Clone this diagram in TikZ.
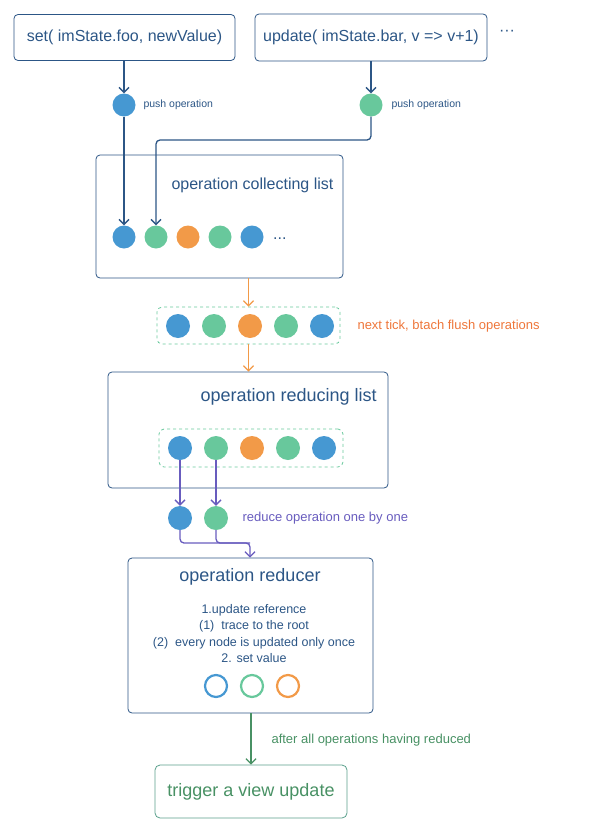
\documentclass[tikz,border=0pt]{standalone}
\usepackage{fontspec}
\setmainfont{Liberation Sans}
\usetikzlibrary{arrows.meta, positioning}
\definecolor{boxblue}{RGB}{44,86,134}
\definecolor{dotblue}{RGB}{70,152,210}
\definecolor{dotgreen}{RGB}{104,200,156}
\definecolor{dotorange}{RGB}{242,154,72}
\definecolor{flowpurple}{RGB}{104,92,190}
\definecolor{tickorange}{RGB}{238,118,58}
\definecolor{viewgreen}{RGB}{72,145,100}
\definecolor{viewedge}{RGB}{90,160,140}

\begin{document}
\begin{tikzpicture}[x=1pt, y=-1pt,
    panel/.style={draw=boxblue, line width=0.8pt, rounded corners=4pt, inner sep=0pt},
    batch/.style={draw=dotgreen, dashed, line width=0.8pt, rounded corners=5pt, inner sep=0pt},
    dot/.style={circle, inner sep=0pt, minimum size=23pt},
    ring/.style={circle, inner sep=0pt, minimum size=22pt, line width=2.2pt},
    tip/.style={-{Straight Barb[length=5pt, width=10pt]}, line width=1.3pt},
    big/.style={font=\fontsize{16}{19}\selectfont, text=boxblue},
    huge/.style={font=\fontsize{18}{21}\selectfont, text=boxblue},
    note/.style={font=\fontsize{13}{15}\selectfont}]
    \useasboundingbox (0,0) rectangle (592,835);
    % calls
    \node[panel, big, minimum width=221pt, minimum height=46pt] (setcall) at (124.5,37.5) {set( imState.foo, newValue)};
    \node[panel, big, minimum width=232pt, minimum height=47pt] (updcall) at (371,37.5) {update( imState.bar, v => v+1)};
    \node[big] (more) at (507,33) {···};
    % pushed operations
    \node[dot, fill=dotblue] (pusha) at (124,105) {};
    \node[dot, fill=dotgreen] (pushb) at (371,105) {};
    \node[anchor=west, font=\fontsize{10.5}{12}\selectfont, text=boxblue] at (140,105) {push operation};
    \node[anchor=west, font=\fontsize{10.5}{12}\selectfont, text=boxblue] at (388,105) {push operation};
    % collecting list
    \node[panel, minimum width=247pt, minimum height=123pt] (collect) at (219.5,216.5) {};
    \node[big, anchor=west] at (168,185) {operation collecting list};
    \node[dot, fill=dotblue] (c1) at (124,237) {};
    \node[dot, fill=dotgreen] (c2) at (156,237) {};
    \node[dot, fill=dotorange] (c3) at (188,237) {};
    \node[dot, fill=dotgreen] (c4) at (220,237) {};
    \node[dot, fill=dotblue] (c5) at (252,237) {};
    \node[big, anchor=west, inner sep=0pt] at (273,239) {...};
    \coordinate (turnb) at (156,140);
    \draw[tip, boxblue] (setcall.south -| pusha) -- (pusha.north);
    \draw[tip, boxblue] (updcall.south -| pushb) -- (pushb.north);
    \draw[tip, boxblue] (pusha.south) -- (c1.north);
    \draw[tip, boxblue, rounded corners=4pt] (pushb.south) |- (turnb) -- (c2.north);
    % flushed batch
    \node[batch, minimum width=183pt, minimum height=37pt] (flush) at (248.5,325.5) {};
    \foreach \i/\c in {1/dotblue, 2/dotgreen, 3/dotorange, 4/dotgreen, 5/dotblue}
        \node[dot, minimum size=24pt, fill=\c] (f\i) at (142+36*\i,326) {};
    \node[note, anchor=west, text=tickorange] at (354,326) {next tick, btach flush operations};
    \draw[tip, dotorange] (flush.north |- collect.south) -- (flush.north);
    % reducing list
    \node[panel, minimum width=280pt, minimum height=116pt] (reduce) at (248,430) {};
    \node[huge, anchor=west] at (197,397) {operation reducing list};
    \node[batch, minimum width=184pt, minimum height=38pt] (inner) at (251,448) {};
    \foreach \i/\c in {1/dotblue, 2/dotgreen, 3/dotorange, 4/dotgreen, 5/dotblue}
        \node[dot, minimum size=24pt, fill=\c] (r\i) at (144+36*\i,448) {};
    \draw[tip, dotorange] (flush.south) -- (flush.south |- reduce.north);
    % one by one
    \node[dot, minimum size=24pt, fill=dotblue] (p1) at (180,518) {};
    \node[dot, minimum size=24pt, fill=dotgreen] (p2) at (216,518) {};
    \node[note, anchor=west, text=flowpurple] at (239,518) {reduce operation one by one};
    \draw[tip, flowpurple] (r1.south) -- (p1.north);
    \draw[tip, flowpurple] (r2.south) -- (p2.north);
    % reducer
    \node[panel, minimum width=245pt, minimum height=155pt] (reducer) at (250.5,635.5) {};
    \node[huge] at (250,577) {operation reducer};
    \node[align=center, text=boxblue, font=\fontsize{12.5}{16.5}\selectfont] at (254,633.5)
        {1.update reference\\(1)\ \ trace to the root\\(2)\ \ every node is updated only once\\2. set value};
    \node[ring, draw=dotblue] (h1) at (216,686) {};
    \node[ring, draw=dotgreen] (h2) at (252,686) {};
    \node[ring, draw=dotorange] (h3) at (288,686) {};
    \coordinate (joinr) at (250,543);
    \draw[line width=1.3pt, flowpurple, rounded corners=4pt] (p2.south) |- (joinr);
    \draw[tip, flowpurple, rounded corners=4pt] (p1.south) |- (joinr) -- (reducer.north -| joinr);
    % view update
    \node[draw=viewedge, line width=0.8pt, rounded corners=5pt, minimum width=192pt, minimum height=53pt,
          text=viewgreen, font=\fontsize{18}{21}\selectfont] (trigger) at (251,791.5) {trigger a view update};
    \node[note, anchor=west, text=viewgreen] at (268,740) {after all operations having reduced};
    \draw[tip, viewgreen] (reducer.south -| trigger) -- (trigger.north);
\end{tikzpicture}
\end{document}
